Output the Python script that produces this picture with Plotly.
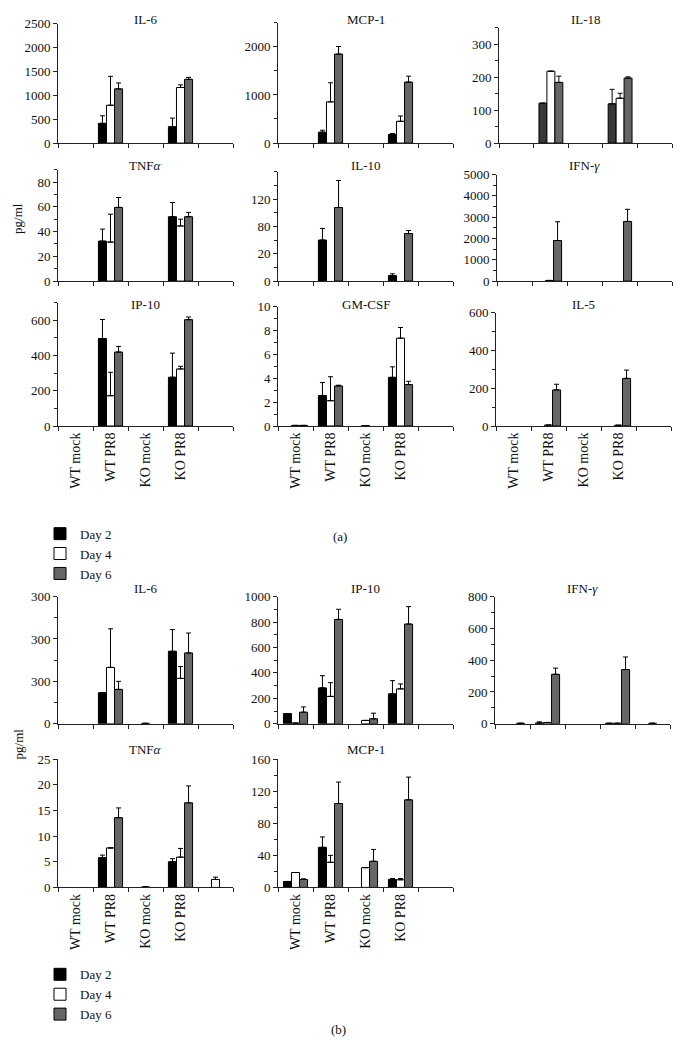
import plotly.graph_objects as go

W, H = 680, 1063
FONT = "Liberation Serif"
N = None

categories = ["WT mock", "WT PR8", "KO mock", "KO PR8", ""]
days = ["Day 2", "Day 4", "Day 6"]
day_colors = ["#000000", "#ffffff", "#666666"]

# ---------------- panel (a) ----------------
a_il6_d2 = [N, 413, N, 344, N];   a_il6_e2 = [N, 158, N, 179, N]
a_il6_d4 = [N, 792, N, 1164, N];  a_il6_e4 = [N, 606, N, 55, N]
a_il6_d6 = [N, 1136, N, 1336, N]; a_il6_e6 = [N, 124, N, 41, N]

a_mcp1_d2 = [N, 226, N, 178, N];   a_mcp1_e2 = [N, 41, N, 21, N]
a_mcp1_d4 = [N, 856, N, 452, N];   a_mcp1_e4 = [N, 397, N, 110, N]
a_mcp1_d6 = [N, 1849, N, 1267, N]; a_mcp1_e6 = [N, 158, N, 123, N]

a_il18_d2 = [N, 121, N, 119, N]; a_il18_e2 = [N, N, N, 44, N]
a_il18_d4 = [N, 218, N, 136, N]; a_il18_e4 = [N, N, N, 15, N]
a_il18_d6 = [N, 184, N, 197, N]; a_il18_e6 = [N, 19, N, 4, N]

a_tnf_d2 = [N, 32.3, N, 52, N];   a_tnf_e2 = [N, 9.7, N, 11.5, N]
a_tnf_d4 = [N, 31.5, N, 44.5, N]; a_tnf_e4 = [N, 22.5, N, 5.5, N]
a_tnf_d6 = [N, 59.5, N, 52, N];   a_tnf_e6 = [N, 8, N, 3.5, N]

a_il10_d2 = [N, 60, N, 8, N];      a_il10_e2 = [N, 17, N, 2.6, N]
a_il10_d4 = [N, N, N, N, N];       a_il10_e4 = [N, N, N, N, N]
a_il10_d6 = [N, 107.6, N, 69.5, N]; a_il10_e6 = [N, 39.4, N, 4.5, N]

a_ifn_d2 = [N, N, N, N, N];        a_ifn_e2 = [N, N, N, N, N]
a_ifn_d4 = [N, 30, N, N, N];       a_ifn_e4 = [N, N, N, N, N]
a_ifn_d6 = [N, 1904, N, 2800, N];  a_ifn_e6 = [N, 882, N, 570, N]

a_ip10_d2 = [N, 497, N, 277, N]; a_ip10_e2 = [N, 108, N, 137, N]
a_ip10_d4 = [N, 172, N, 324, N]; a_ip10_e4 = [N, 133, N, 15, N]
a_ip10_d6 = [N, 420, N, 604, N]; a_ip10_e6 = [N, 32, N, 15, N]

a_gm_d2 = [N, 2.56, N, 4.08, N];     a_gm_e2 = [N, 1.08, N, 0.88, N]
a_gm_d4 = [0.05, 2.12, 0.04, 7.36, N]; a_gm_e4 = [N, 2.01, N, 0.9, N]
a_gm_d6 = [0.05, 3.36, N, 3.47, N];  a_gm_e6 = [N, 0.06, N, 0.28, N]

a_il5_d2 = [N, N, N, N, N];     a_il5_e2 = [N, N, N, N, N]
a_il5_d4 = [N, 5, N, 4, N];     a_il5_e4 = [N, N, N, N, N]
a_il5_d6 = [N, 191, N, 252, N]; a_il5_e6 = [N, 30, N, 44, N]

# ---------------- panel (b) ----------------
b_il6_d2 = [N, 73, N, 171, N];  b_il6_e2 = [N, N, N, 51, N]
b_il6_d4 = [N, 133, 1, 107, N]; b_il6_e4 = [N, 91, N, 28, N]
b_il6_d6 = [N, 81, N, 167, N];  b_il6_e6 = [N, 19, N, 47, N]

b_ip10_d2 = [80, 282, N, 235, N];  b_ip10_e2 = [N, 96, N, 104, N]
b_ip10_d4 = [5, 215, 26, 274, N];  b_ip10_e4 = [N, 108, N, 39, N]
b_ip10_d6 = [91, 820, 39, 784, N]; b_ip10_e6 = [41, 80, 44, 137, N]

b_ifn_d2 = [N, 5, N, 3, N];   b_ifn_e2 = [N, 7, N, N, N]
b_ifn_d4 = [N, 8, N, 3, 3];   b_ifn_e4 = [N, N, N, N, N]
b_ifn_d6 = [3, 311, N, 341, N]; b_ifn_e6 = [N, 39, N, 79, N]

b_tnf_d2 = [N, 5.8, N, 5.0, N];       b_tnf_e2 = [N, 0.5, N, 0.6, N]
b_tnf_d4 = [N, 7.7, 0.1, 5.9, 1.55];  b_tnf_e4 = [N, N, N, 1.7, 0.45]
b_tnf_d6 = [N, 13.6, N, 16.5, N];     b_tnf_e6 = [N, 1.9, N, 3.3, N]

b_mcp1_d2 = [7.4, 50, N, 9.9, N];        b_mcp1_e2 = [N, 13, N, 1.2, N]
b_mcp1_d4 = [18.6, 31.3, 24.7, 9.5, N];  b_mcp1_e4 = [N, 8.7, N, 1.6, N]
b_mcp1_d6 = [9.9, 104.7, 32.6, 109.3, N]; b_mcp1_e6 = [0.8, 26.8, 14.8, 28.4, N]


def rng(a, b, s):
    out = []
    v = a
    while v <= b + 1e-9:
        out.append(round(v, 6))
        v += s
    return out


# name, values, errors, plot box px (x0,x1,ytop,ybottom), yrange, tickvals, ticktext, minor, xlabels, legend
panels = [
    ("IL-6", (a_il6_d2, a_il6_d4, a_il6_d6), (a_il6_e2, a_il6_e4, a_il6_e6), (58, 233, 17, 138), 2500,
     rng(0, 2500, 500), None, [], False, "legend"),
    ("MCP-1", (a_mcp1_d2, a_mcp1_d4, a_mcp1_d6), (a_mcp1_e2, a_mcp1_e4, a_mcp1_e6), (278, 453, 16, 138), 2500,
     [0, 1000, 2000], None, [500, 1500, 2500], False, None),
    ("IL-18", (a_il18_d2, a_il18_d4, a_il18_d6), (a_il18_e2, a_il18_e4, a_il18_e6), (499, 672, 21, 138), 350,
     [0, 100, 200, 300], None, [50, 150, 250, 350], False, None),
    ("TNF<i>α</i>", (a_tnf_d2, a_tnf_d4, a_tnf_d6), (a_tnf_e2, a_tnf_e4, a_tnf_e6), (58, 233, 165, 278), 90,
     [0, 20, 40, 60, 80], None, [10, 30, 50, 70, 90], False, None),
    ("IL-10", (a_il10_d2, a_il10_d4, a_il10_d6), (a_il10_e2, a_il10_e4, a_il10_e6), (278, 453, 167, 278), 160,
     [0, 40, 80, 120], ["0", "20", "80", "120"], [20, 60, 100, 140, 160], False, None),
    ("IFN-<i>γ</i>", (a_ifn_d2, a_ifn_d4, a_ifn_d6), (a_ifn_e2, a_ifn_e4, a_ifn_e6), (497, 672, 170, 278), 5000,
     rng(0, 5000, 1000), None, rng(500, 4500, 1000), False, None),
    ("IP-10", (a_ip10_d2, a_ip10_d4, a_ip10_d6), (a_ip10_e2, a_ip10_e4, a_ip10_e6), (58, 233, 300, 425), 700,
     [0, 200, 400, 600], None, [100, 300, 500, 700], True, None),
    ("GM-CSF", (a_gm_d2, a_gm_d4, a_gm_d6), (a_gm_e2, a_gm_e4, a_gm_e6), (278, 453, 304, 425), 10,
     rng(0, 10, 2), None, rng(1, 9, 2), True, None),
    ("IL-5", (a_il5_d2, a_il5_d4, a_il5_d6), (a_il5_e2, a_il5_e4, a_il5_e6), (496, 671, 310, 425), 600,
     [0, 200, 400, 600], None, [100, 300, 500], True, None),
    ("IL-6", (b_il6_d2, b_il6_d4, b_il6_d6), (b_il6_e2, b_il6_e4, b_il6_e6), (58, 233, 598, 727), 300,
     [0, 100, 200, 300], ["0", "300", "300", "300"], [50, 150, 250], False, "legend2"),
    ("IP-10", (b_ip10_d2, b_ip10_d4, b_ip10_d6), (b_ip10_e2, b_ip10_e4, b_ip10_e6), (278, 453, 598, 727), 1000,
     rng(0, 1000, 200), None, rng(100, 900, 200), False, None),
    ("IFN-<i>γ</i>", (b_ifn_d2, b_ifn_d4, b_ifn_d6), (b_ifn_e2, b_ifn_e4, b_ifn_e6), (495, 670, 598, 727), 800,
     rng(0, 800, 200), None, rng(100, 700, 200), False, None),
    ("TNF<i>α</i>", (b_tnf_d2, b_tnf_d4, b_tnf_d6), (b_tnf_e2, b_tnf_e4, b_tnf_e6), (58, 233, 763, 893), 25,
     rng(0, 25, 5), None, [], True, None),
    ("MCP-1", (b_mcp1_d2, b_mcp1_d4, b_mcp1_d6), (b_mcp1_e2, b_mcp1_e4, b_mcp1_e6), (278, 453, 763, 893), 160,
     rng(0, 160, 40), None, rng(20, 140, 40), True, None),
]

title_rows_px = {17: 13, 16: 13, 21: 13, 165: 161, 167: 161, 170: 161, 300: 302, 304: 302, 310: 302,
                 598: 590, 763: 753}

xpos = [i + 0.5 for i in range(len(categories))]
fig = go.Figure()
layout = dict(
    width=W, height=H, margin=dict(l=0, r=0, t=0, b=0),
    paper_bgcolor="white", plot_bgcolor="white",
    barmode="group", bargap=0.31, bargroupgap=0, hovermode=False,
    font=dict(family=FONT, size=12, color="#111"),
    annotations=[],
)

for i, (name, vals, errs, box, ymax, tv, tt, minor, xlab, leg) in enumerate(panels):
    k = i + 1
    xa = "x" if k == 1 else f"x{k}"
    ya = "y" if k == 1 else f"y{k}"
    x0, x1, yt, yb = box
    for d in range(3):
        err = errs[d]
        color = day_colors[d]
        if name == "IL-18" and d == 0:
            color = "#383838"
        fig.add_trace(go.Bar(
            x=xpos, y=vals[d], xaxis=xa, yaxis=ya, name=days[d],
            offsetgroup=str(d), legendgroup=days[d],
            marker=dict(color=color, line=dict(color="black", width=1)),
            error_y=dict(type="data", symmetric=False, array=err,
                         arrayminus=[0 if e is not None else None for e in err],
                         color="black", thickness=1, width=2.5),
            showlegend=leg is not None, legend=leg if leg else "legend",
        ))
    xkey = "xaxis" if k == 1 else f"xaxis{k}"
    ykey = "yaxis" if k == 1 else f"yaxis{k}"
    layout[xkey] = dict(
        domain=[x0 / W, x1 / W], anchor=ya, range=[0, len(categories)],
        showline=True, linecolor="#222", linewidth=1, showgrid=False, zeroline=False,
        tickmode="array", tickvals=xpos[:4], ticktext=categories[:4],
        showticklabels=xlab, tickangle=-90, ticks="",
        tickfont=dict(family=FONT, size=14, color="#111"),
        minor=dict(tickmode="array", tickvals=list(range(len(categories) + 1)),
                   ticks="outside", ticklen=4, tickcolor="#222", tickwidth=1),
        fixedrange=True,
    )
    ydict = dict(
        domain=[1 - yb / H, 1 - yt / H], anchor=xa, range=[0, ymax],
        showline=True, linecolor="#222", linewidth=1, showgrid=False, zeroline=False,
        tickmode="array", tickvals=tv, ticks="outside", ticklen=4, tickcolor="#222",
        tickfont=dict(family=FONT, size=13, color="#111"),
        fixedrange=True,
    )
    if tt is not None:
        ydict["ticktext"] = tt
    if minor:
        ydict["minor"] = dict(tickmode="array", tickvals=minor, ticks="outside", ticklen=3,
                              tickcolor="#222", tickwidth=1)
    layout[ykey] = ydict
    layout["annotations"].append(dict(
        text=name, xref="paper", yref="paper", x=(x0 + x1) / 2 / W, y=1 - title_rows_px[yt] / H,
        xanchor="center", yanchor="middle", showarrow=False,
        font=dict(family=FONT, size=13, color="#111"),
    ))

for txt, xp, yp, ang in [("pg/ml", 18, 215, -90), ("pg/ml", 18, 748, -90),
                         ("(a)", 340, 537, 0), ("(b)", 338, 1037, 0)]:
    layout["annotations"].append(dict(
        text=txt, xref="paper", yref="paper", x=xp / W, y=1 - yp / H,
        xanchor="center", yanchor="middle", showarrow=False, textangle=ang,
        font=dict(family=FONT, size=13, color="#111"),
    ))

leg_common = dict(xanchor="left", yanchor="top", bgcolor="rgba(0,0,0,0)",
                  font=dict(family=FONT, size=13, color="#111"), traceorder="normal",
                  itemwidth=30, tracegroupgap=0)
layout["legend"] = dict(x=40 / W, y=1 - 519 / H, **leg_common)
layout["legend2"] = dict(x=40 / W, y=1 - 966 / H, **leg_common)

fig.update_layout(**layout)
fig.write_html("out.html", config={"displayModeBar": False, "staticPlot": True},
               post_script="document.body.style.margin='0px';document.body.style.overflow='hidden';")
